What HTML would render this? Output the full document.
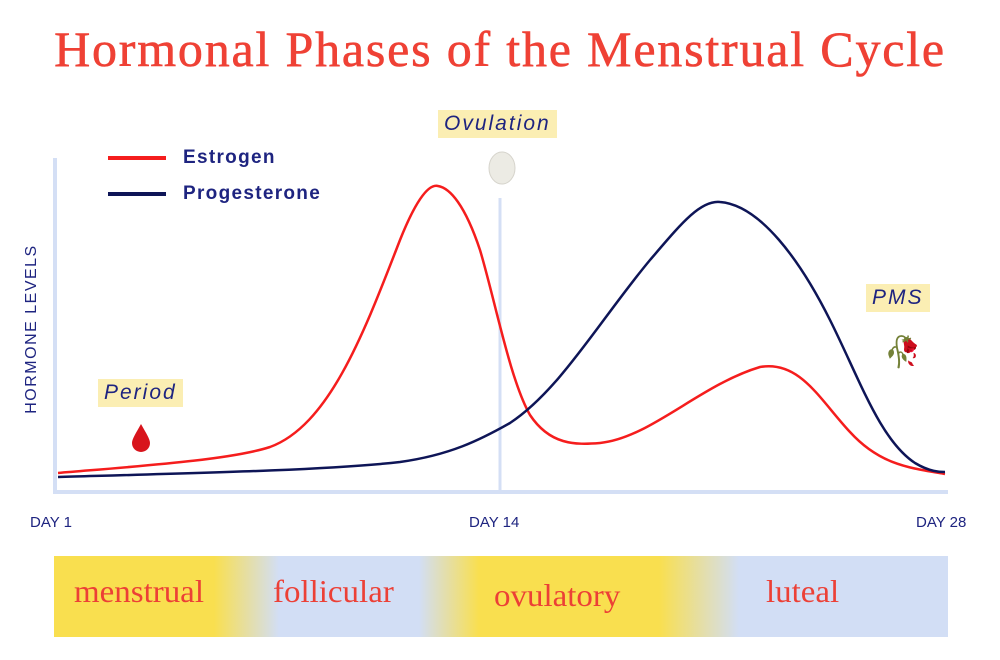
<!DOCTYPE html>
<html><head><style>
body{margin:0;width:1000px;height:660px;background:#fff;overflow:hidden;position:relative;font-family:"Liberation Sans",sans-serif}
.t{position:absolute;left:0;width:1000px;text-align:center;top:20px;font-family:"Liberation Serif",serif;font-size:50px;color:#ef4135;letter-spacing:1.8px;-webkit-text-stroke:0.6px #ef4135}
.lab{position:absolute;background:#fbeeb3;color:#1e2480;font-style:italic;font-size:21px;letter-spacing:2px;padding:2px 6px}
.ax{position:absolute;color:#1e2480;font-size:15px}
.band{position:absolute;left:54px;top:556px;width:894px;height:81px;background:linear-gradient(to right,#f9df4f 0px,#f9df4f 160px,#d2def5 225px,#d2def5 365px,#f9df4f 425px,#f9df4f 605px,#d2def5 685px,#d2def5 894px)}
.b{position:absolute;top:573px;font-family:"Liberation Serif",serif;font-size:32px;color:#ec4036;transform:scaleX(1.03);transform-origin:left}
</style></head><body>
<div class="t">Hormonal Phases of the Menstrual Cycle</div>
<svg width="1000" height="660" style="position:absolute;left:0;top:0">
<line x1="55" y1="158" x2="55" y2="493" stroke="#d4dff5" stroke-width="4"/>
<line x1="53" y1="492" x2="948" y2="492" stroke="#d4dff5" stroke-width="4"/>
<line x1="500" y1="198" x2="500" y2="492" stroke="#d4dff5" stroke-width="3"/>
<line x1="108" y1="158" x2="166" y2="158" stroke="#f51d1d" stroke-width="4"/>
<line x1="108" y1="194" x2="166" y2="194" stroke="#0e1557" stroke-width="4"/>
<path d="M58,473 C140,466 230,460 270,447 C330,425 365,330 400,240 C418,195 430,184 438,186 C450,188 465,205 480,250 C495,300 510,380 530,415 C550,445 575,445 600,443 C650,438 700,385 760,367 C800,360 820,400 850,432 C880,465 910,468 945,474" fill="none" stroke="#f51d1d" stroke-width="2.5"/>
<path d="M58,477 C200,473 330,470 400,462 C450,455 480,440 510,423 C560,390 600,320 650,260 C680,225 700,200 720,202 C760,205 800,260 830,320 C860,380 880,440 915,463 C930,472 940,472 945,472" fill="none" stroke="#0e1557" stroke-width="2.5"/>
<path d="M141,424 C136,433 132,439 132,443 A9,9 0 0 0 150,443 C150,439 146,433 141,424 Z" fill="#d8141c"/>
<ellipse cx="502" cy="168" rx="13" ry="16" fill="#ecebe4" stroke="#d6d4cc"/>
<text x="884" y="362" font-size="30" fill="#c71b2a">🥀</text>
</svg>
<div class="ax" style="left:183px;top:147px;font-size:19px;font-weight:bold;letter-spacing:1.3px">Estrogen</div>
<div class="ax" style="left:183px;top:183px;font-size:19px;font-weight:bold;letter-spacing:1.3px">Progesterone</div>
<div class="lab" style="left:438px;top:110px">Ovulation</div>
<div class="lab" style="left:98px;top:379px">Period</div>
<div class="lab" style="left:866px;top:284px">PMS</div>
<div class="ax" style="left:-53px;top:320px;transform:rotate(-90deg);font-size:16px;letter-spacing:1.5px;width:170px;text-align:center">HORMONE LEVELS</div>
<div class="ax" style="left:30px;top:514px">DAY 1</div>
<div class="ax" style="left:469px;top:514px">DAY 14</div>
<div class="ax" style="left:916px;top:514px">DAY 28</div>
<div class="band"></div>
<div class="b" style="left:74px">menstrual</div>
<div class="b" style="left:273px">follicular</div>
<div class="b" style="left:494px;top:577px">ovulatory</div>
<div class="b" style="left:766px">luteal</div>
</body></html>
